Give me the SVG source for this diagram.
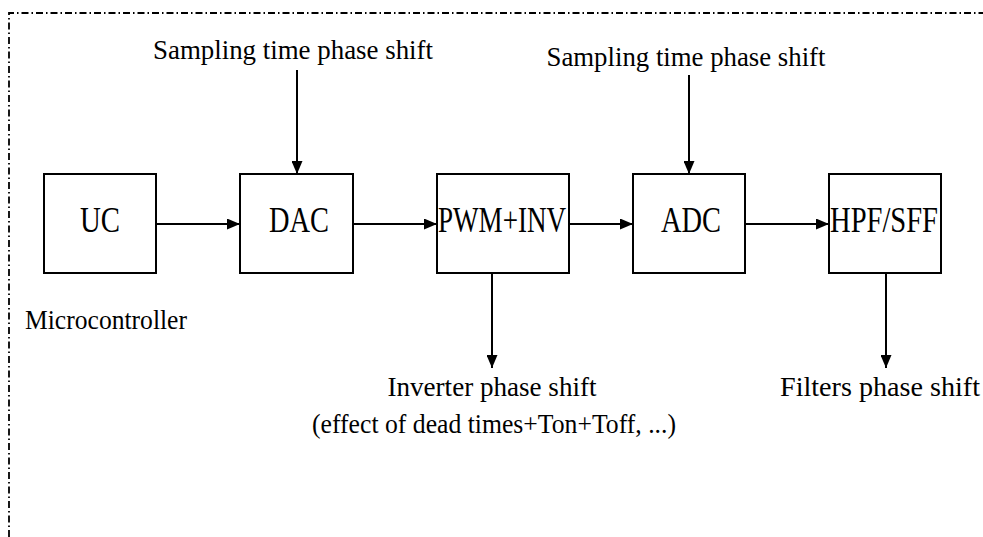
<svg xmlns="http://www.w3.org/2000/svg" width="983" height="537" viewBox="0 0 983 537">
<style>
text{font-family:"Liberation Serif","DejaVu Serif",serif;fill:#000}
.box{fill:#fff;stroke:#000;stroke-width:2}
.lbl{font-size:36px}
.sm{font-size:27px}
.conn{stroke:#000;stroke-width:2;fill:none}
.border{stroke:#000;stroke-width:1.8;fill:none;stroke-dasharray:7 3 1.5 3}
</style>
<defs>
<marker id="ah" viewBox="0 0 13 11" refX="13" refY="5.5" markerWidth="13" markerHeight="11" markerUnits="userSpaceOnUse" orient="auto">
<path d="M0,0 L13,5.5 L0,11 Z" fill="#000"/>
</marker>
</defs>
<path class="border" d="M9,537 V13 H983"/>
<g id="texts">
<text class="sm" x="293" y="59" text-anchor="middle" textLength="280" lengthAdjust="spacingAndGlyphs">Sampling time phase shift</text>
<text class="sm" x="686" y="66" text-anchor="middle" textLength="279" lengthAdjust="spacingAndGlyphs">Sampling time phase shift</text>
<text class="sm" x="25" y="329" textLength="162" lengthAdjust="spacingAndGlyphs">Microcontroller</text>
<text class="sm" x="492" y="396" text-anchor="middle" textLength="209" lengthAdjust="spacingAndGlyphs">Inverter phase shift</text>
<text class="sm" x="494" y="433" text-anchor="middle" textLength="364" lengthAdjust="spacingAndGlyphs">(effect of dead times+Ton+Toff, ...)</text>
<text class="sm" x="880" y="396" text-anchor="middle" textLength="200" lengthAdjust="spacingAndGlyphs">Filters phase shift</text>
</g>
<g id="connectors">
<line class="conn" x1="156" y1="224" x2="240" y2="224" marker-end="url(#ah)"/>
<line class="conn" x1="353" y1="224" x2="437" y2="224" marker-end="url(#ah)"/>
<line class="conn" x1="569" y1="224" x2="633" y2="224" marker-end="url(#ah)"/>
<line class="conn" x1="745" y1="224" x2="829" y2="224" marker-end="url(#ah)"/>
<line class="conn" x1="297" y1="70" x2="297" y2="174" marker-end="url(#ah)"/>
<line class="conn" x1="689" y1="75" x2="689" y2="174" marker-end="url(#ah)"/>
<line class="conn" x1="492" y1="273" x2="492" y2="368" marker-end="url(#ah)"/>
<line class="conn" x1="886" y1="273" x2="886" y2="368" marker-end="url(#ah)"/>
</g>
<g id="uc"><rect class="box" x="44" y="174" width="112" height="99"/><text class="lbl" x="100" y="232" text-anchor="middle" textLength="40" lengthAdjust="spacingAndGlyphs">UC</text></g>
<g id="dac"><rect class="box" x="240" y="174" width="113" height="99"/><text class="lbl" x="299" y="232" text-anchor="middle" textLength="60" lengthAdjust="spacingAndGlyphs">DAC</text></g>
<g id="pwm"><rect class="box" x="437" y="174" width="132" height="99"/><text class="lbl" x="502" y="232" text-anchor="middle" textLength="128" lengthAdjust="spacingAndGlyphs">PWM+INV</text></g>
<g id="adc"><rect class="box" x="633" y="174" width="112" height="99"/><text class="lbl" x="691" y="232" text-anchor="middle" textLength="60" lengthAdjust="spacingAndGlyphs">ADC</text></g>
<g id="hpf"><rect class="box" x="829" y="174" width="112" height="99"/><text class="lbl" x="884" y="232" text-anchor="middle" textLength="108" lengthAdjust="spacingAndGlyphs">HPF/SFF</text></g>
</svg>
